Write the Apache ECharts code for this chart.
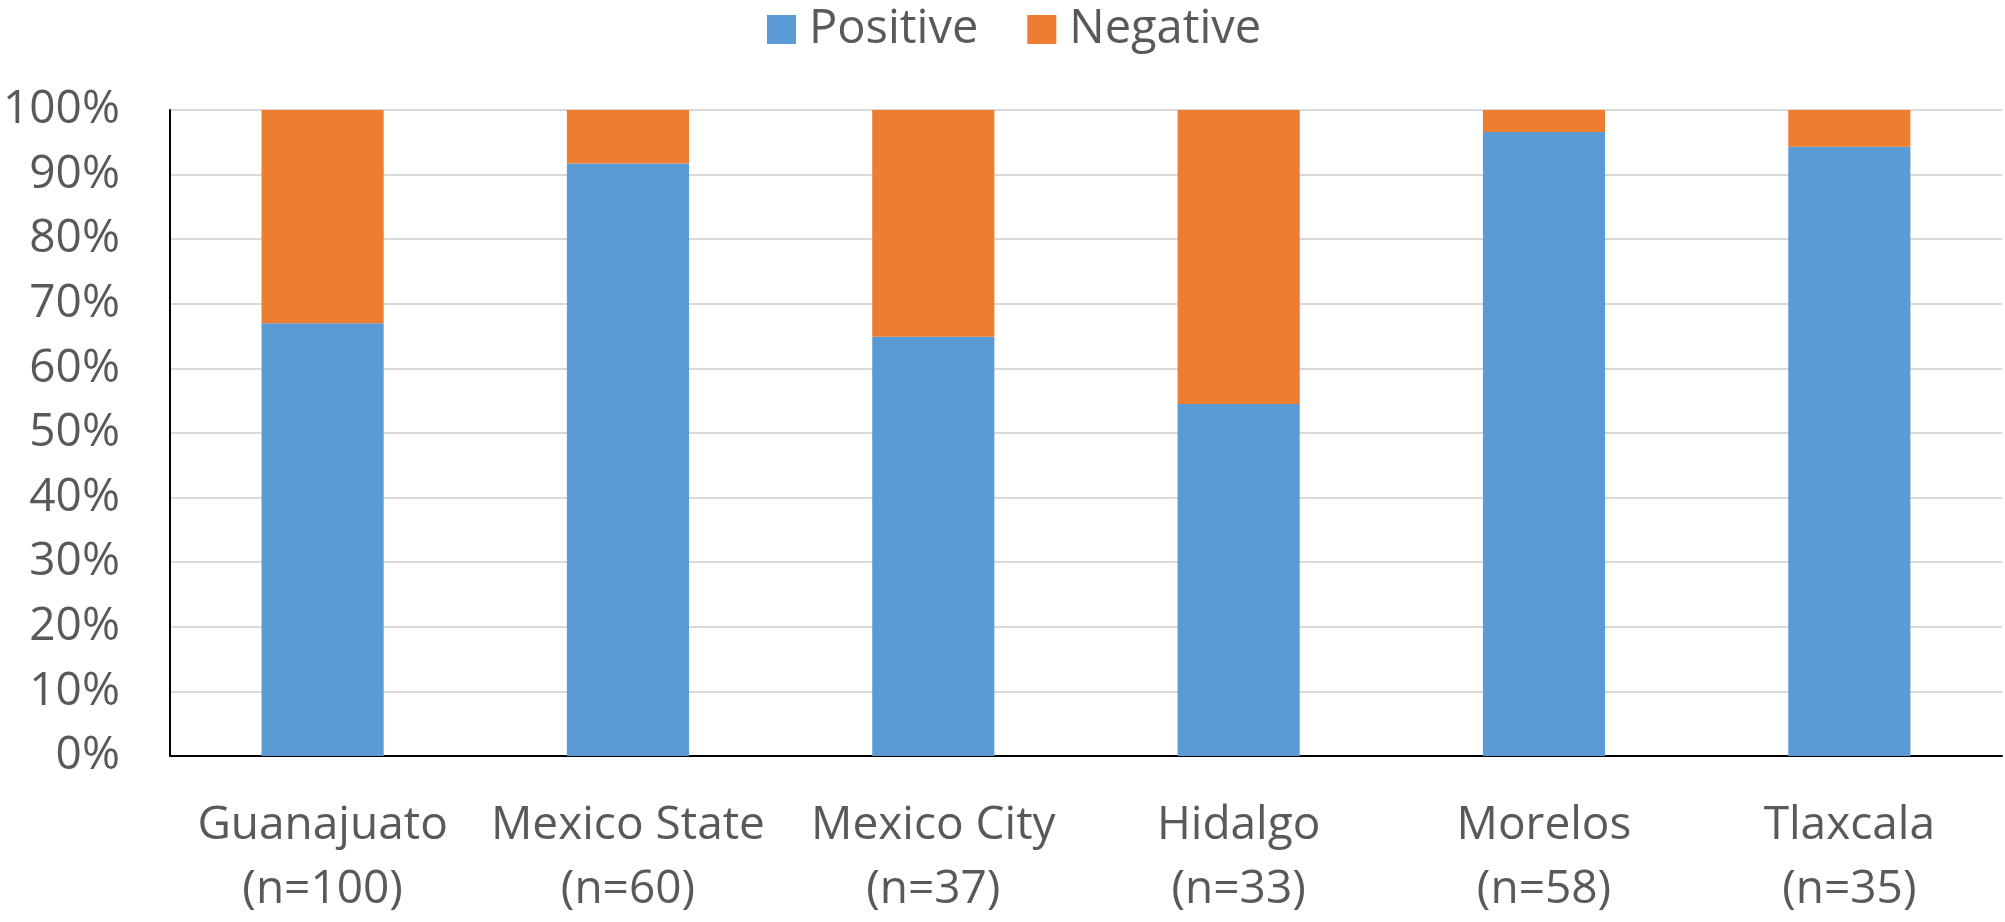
<!DOCTYPE html>
<html>
<head>
<meta charset="utf-8">
<script src="https://cdn.jsdelivr.net/npm/echarts@6/dist/echarts.min.js"></script>
<style>
    html, body { margin: 0; padding: 0; background: #fff; }
    #chart { width: 2005px; height: 922px; }
</style>
</head>
<body>
<div id="chart"></div>
<script>
// categories and shares (percent)
var states = ['Guanajuato', 'Mexico State', 'Mexico City', 'Hidalgo', 'Morelos', 'Tlaxcala'];
var sizes = ['(n=100)', '(n=60)', '(n=37)', '(n=33)', '(n=58)', '(n=35)'];
var positive = [67, 91.7, 64.9, 54.5, 96.6, 94.3];
var negative = [33, 8.3, 35.1, 45.5, 3.4, 5.7];
var yTicks = [0, 10, 20, 30, 40, 50, 60, 70, 80, 90, 100];

var font = 'Open Sans';
var labelColor = '#595959';

var categories = states.map(function (s, i) { return s + '\n' + sizes[i]; });

var myChart = echarts.init(document.getElementById('chart'));
var option = {
    animation: false,
    legend: {
        top: 1,
        left: 762,
        itemWidth: 29,
        itemHeight: 29,
        itemGap: 49,
        icon: 'rect',
        textStyle: { fontFamily: font, fontSize: 47, lineHeight: 40, color: labelColor, padding: [0, 0, 0, 8] },
        data: ['Positive', 'Negative']
    },
    grid: { left: 167, right: 3, top: 110, bottom: 161 },
    xAxis: {
        type: 'category',
        data: categories,
        axisLine: { show: true, lineStyle: { color: '#000', width: 2 } },
        axisTick: { show: false },
        axisLabel: {
            interval: 0,
            margin: 38,
            fontFamily: font,
            fontSize: 46,
            lineHeight: 64,
            color: labelColor
        }
    },
    yAxis: {
        type: 'value',
        min: yTicks[0],
        max: yTicks[yTicks.length - 1],
        interval: 10,
        axisLine: { show: true, lineStyle: { color: '#000', width: 2 } },
        axisTick: { show: false },
        splitLine: { lineStyle: { color: '#d9d9d9', width: 2 } },
        axisLabel: {
            margin: 50,
            fontFamily: font,
            fontSize: 46,
            color: labelColor,
            formatter: '{value}%'
        }
    },
    series: [
        {
            name: 'Positive',
            type: 'bar',
            stack: 'share',
            barWidth: '40%',
            itemStyle: { color: '#5b9bd5' },
            data: positive
        },
        {
            name: 'Negative',
            type: 'bar',
            stack: 'share',
            barWidth: '40%',
            itemStyle: { color: '#ed7d31' },
            data: negative
        }
    ]
};
option && myChart.setOption(option);
</script>
</body>
</html>
